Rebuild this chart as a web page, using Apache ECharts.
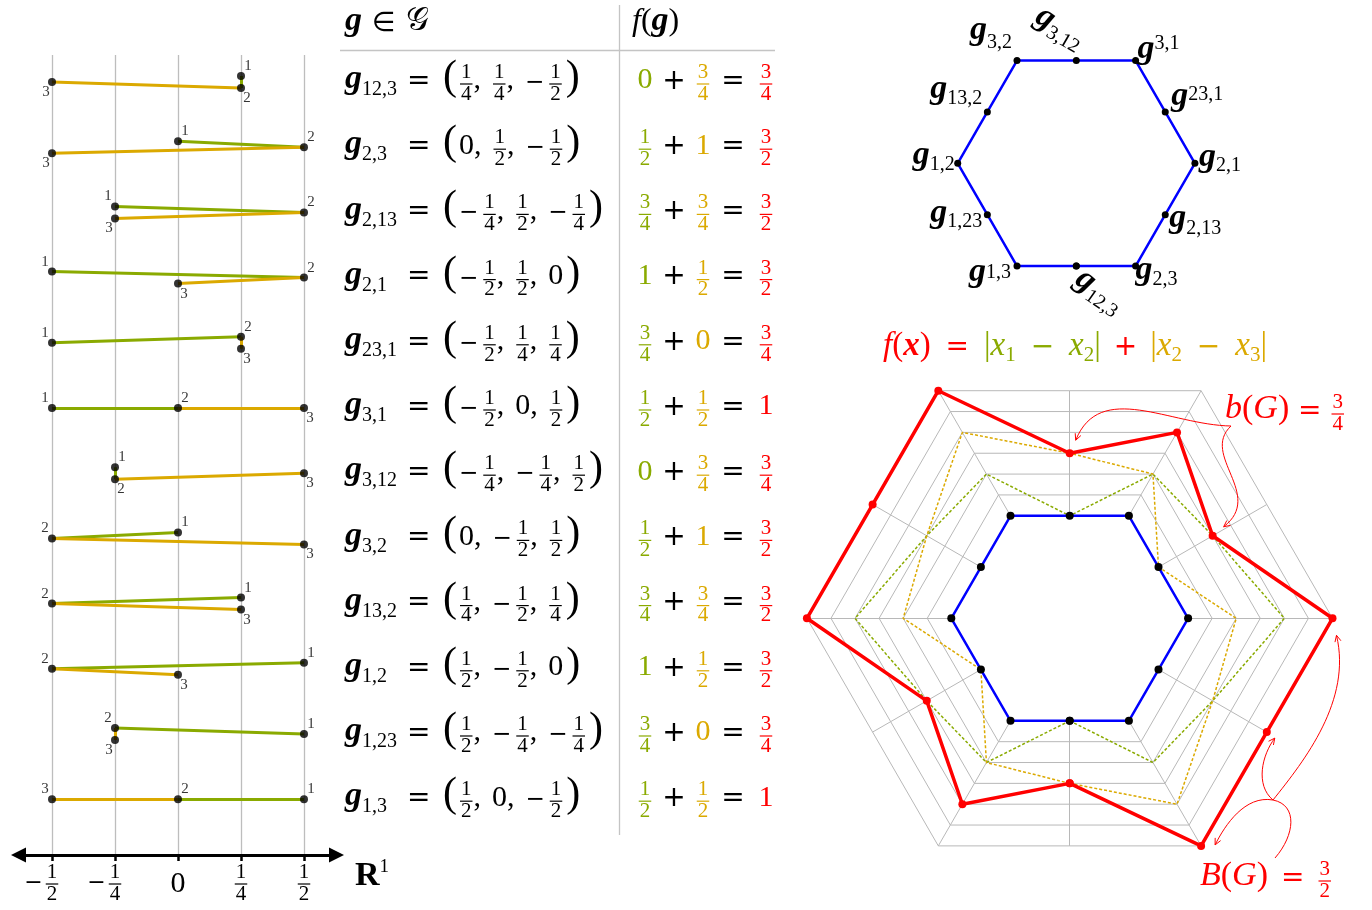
<!DOCTYPE html>
<html>
<head>
<meta charset="utf-8">
<script src="https://cdn.jsdelivr.net/npm/echarts@6/dist/echarts.min.js"></script>
<style>
  html, body { margin: 0; background: #fff; }
  #main { width: 1372px; height: 910px; }
</style>
</head>
<body>
<div id="main"></div>
<script>
// ---- data ----
const groupNames = ['12,3', '2,3', '2,13', '2,1', '23,1', '3,1', '3,12', '3,2', '13,2', '1,2', '1,23', '1,3'];
const groupVectors = [
  [1/4, 1/4, -1/2], [0, 1/2, -1/2], [-1/4, 1/2, -1/4], [-1/2, 1/2, 0],
  [-1/2, 1/4, 1/4], [-1/2, 0, 1/2], [-1/4, -1/4, 1/2], [0, -1/2, 1/2],
  [1/4, -1/2, 1/4], [1/2, -1/2, 0], [1/2, -1/4, -1/4], [1/2, 0, -1/2]
];
const fFirst = [0, 1/2, 3/4, 1, 3/4, 1/2, 0, 1/2, 3/4, 1, 3/4, 1/2];   // |x1 - x2|
const fSecond = [3/4, 1, 3/4, 1/2, 0, 1/2, 3/4, 1, 3/4, 1/2, 0, 1/2];  // |x2 - x3|
const fTotal = [3/4, 3/2, 3/2, 3/2, 3/4, 1, 3/4, 3/2, 3/2, 3/2, 3/4, 1];
// nudge of points 1,2,3 in each row (+1 up / -1 down) so touching points stay apart
const pointLift = [[1,-1,0],[1,0,-1],[1,0,-1],[1,0,-1],[0,1,-1],[0,0,0],[1,-1,0],[1,0,-1],[1,0,-1],[1,0,-1],[0,1,-1],[0,0,0]];
const pointLabelSide = [
  ['TR','BR','BL'],['TR','TR','BL'],['TL','TR','BL'],['TL','TR','BR'],
  ['TL','TR','BR'],['TL','TR','BR'],['TR','BR','BR'],['TR','TL','BR'],
  ['TR','TL','BR'],['TR','TL','BR'],['TR','TL','BL'],['TR','TR','TL']
];
const lineTicks = [-1/2, -1/4, 0, 1/4, 1/2];
const ringLevels = [1/4, 1/2, 3/4, 1, 5/4, 3/2];

// ---- styling ----
const GREEN = '#8aaa00';
const YELLOW = '#dba900';
const RED = '#ff0000';
const BLUE = '#0000ff';
const GRID_GRAY = '#b8b8b8';
const SERIF = "'Liberation Serif','Times New Roman',serif";
const SYMF = "'DejaVu Sans',sans-serif";
const LIFT = 0.092;        // row units
const RING_GAIN = 0.813;   // radar radius grows 1 + gain*f (blue hexagon = 1)
const cornerOffset = { TR: [7, -10], TL: [-7, -10], BR: [6, 10], BL: [-6, 10] };

const ROOT3 = Math.sqrt(3);
function project(v) { return [v[1] - v[0], (2 * v[2] - v[0] - v[1]) / ROOT3]; }
function scaled(v, f) { const p = project(v), k = 1 + RING_GAIN * f; return [p[0] * k, p[1] * k]; }
function closed(a) { return a.concat([a[0]]); }

// left strip: segments and points
const greenSegs = [], yellowSegs = [], dots = [];
groupVectors.forEach(function (v, i) {
  const pts = [0, 1, 2].map(k => [v[k], i - pointLift[i][k] * LIFT]);
  greenSegs.push({ coords: [pts[0], pts[1]] });
  yellowSegs.push({ coords: [pts[1], pts[2]] });
  pts.forEach(function (p, k) {
    const o = cornerOffset[pointLabelSide[i][k]];
    dots.push({ name: String(k + 1), value: p, label: { position: [o[0] + 4, o[1] + 4] } });
  });
});

const hexPts = groupVectors.map(v => scaled(v, 0));

const chart = echarts.init(document.getElementById('main'));

chart.setOption({
  animation: false,
  grid: [
    { left: 52, top: 55, width: 252, height: 800, outerBoundsMode: 'none' },
    { left: 886.54, top: 9.12, width: 379.52, height: 308.36, outerBoundsMode: 'none' },
    { left: 785.54, top: 369.66, width: 568.32, height: 497.28, outerBoundsMode: 'none' },
    { left: 18.5, top: 55, width: 318, height: 800, outerBoundsMode: 'none' }
  ],
  xAxis: [
    {
      gridIndex: 0, type: 'value', min: -0.5, max: 0.5, interval: 0.25,
      axisLine: { show: false, onZero: false },
      axisTick: { show: true, length: 6, lineStyle: { color: '#000', width: 2.5 } },
      axisLabel: { show: false },
      splitLine: { show: true, lineStyle: { color: '#bdbdbd', width: 1.3 } }
    },
    { gridIndex: 1, type: 'value', min: -1.6, max: 1.6, show: false },
    { gridIndex: 2, type: 'value', min: -2.4, max: 2.4, show: false },
    {
      gridIndex: 3, type: 'value', min: 0, max: 1,
      axisLine: {
        show: true, onZero: false, symbol: ['triangle', 'triangle'], symbolSize: [15, 15],
        lineStyle: { color: '#000', width: 3 }
      },
      axisTick: { show: false }, axisLabel: { show: false }, splitLine: { show: false }
    }
  ],
  yAxis: [
    { gridIndex: 0, type: 'value', inverse: true, min: -0.414, max: 11.856, show: false },
    { gridIndex: 1, type: 'value', min: -1.3, max: 1.3, show: false },
    { gridIndex: 2, type: 'value', min: -2.1, max: 2.1, show: false },
    { gridIndex: 3, type: 'value', min: 0, max: 1, show: false }
  ],
  series: [
    {
      type: 'lines', coordinateSystem: 'cartesian2d', xAxisIndex: 0, yAxisIndex: 0, silent: true, z: 2,
      lineStyle: { color: GREEN, width: 3, opacity: 1 }, data: greenSegs
    },
    {
      type: 'lines', coordinateSystem: 'cartesian2d', xAxisIndex: 0, yAxisIndex: 0, silent: true, z: 3,
      lineStyle: { color: YELLOW, width: 3, opacity: 1 }, data: yellowSegs
    },
    {
      type: 'scatter', xAxisIndex: 0, yAxisIndex: 0, symbolSize: 8, z: 5, silent: true,
      itemStyle: { color: '#000' },
      label: {
        show: true, formatter: '{b}', fontFamily: SERIF, fontSize: 15, color: '#000',
        align: 'center', verticalAlign: 'middle'
      },
      data: dots
    },
    {
      type: 'line', xAxisIndex: 1, yAxisIndex: 1, data: closed(hexPts), z: 3, silent: true,
      lineStyle: { color: BLUE, width: 2.5 }, symbol: 'circle', symbolSize: 7, showSymbol: true,
      itemStyle: { color: '#000' }
    },
    {
      type: 'lines', coordinateSystem: 'cartesian2d', xAxisIndex: 2, yAxisIndex: 2, polyline: true, silent: true, z: 1,
      lineStyle: { color: GRID_GRAY, width: 1, opacity: 1 },
      data: ringLevels.map(f => ({ coords: closed(groupVectors.map(v => scaled(v, f))) }))
    },
    {
      type: 'lines', coordinateSystem: 'cartesian2d', xAxisIndex: 2, yAxisIndex: 2, silent: true, z: 1,
      lineStyle: { color: GRID_GRAY, width: 1, opacity: 1 },
      data: groupVectors.map(v => ({ coords: [scaled(v, 0), scaled(v, ringLevels[ringLevels.length - 1])] }))
    },
    {
      type: 'line', xAxisIndex: 2, yAxisIndex: 2, z: 2, silent: true, showSymbol: false,
      lineStyle: { color: GREEN, width: 1.5, type: [3, 2] },
      data: closed(groupVectors.map((v, i) => scaled(v, fFirst[i])))
    },
    {
      type: 'line', xAxisIndex: 2, yAxisIndex: 2, z: 2, silent: true, showSymbol: false,
      lineStyle: { color: YELLOW, width: 1.5, type: [3, 2] },
      data: closed(groupVectors.map((v, i) => scaled(v, fSecond[i])))
    },
    {
      type: 'line', xAxisIndex: 2, yAxisIndex: 2, z: 3, silent: true,
      lineStyle: { color: BLUE, width: 2.5 }, symbol: 'circle', symbolSize: 8, showSymbol: true,
      itemStyle: { color: '#000' }, data: closed(hexPts)
    },
    {
      type: 'line', xAxisIndex: 2, yAxisIndex: 2, z: 4, silent: true,
      lineStyle: { color: RED, width: 3.5 }, symbol: 'circle', symbolSize: 8, showSymbol: true,
      itemStyle: { color: RED }, data: closed(groupVectors.map((v, i) => scaled(v, fTotal[i])))
    }
  ]
});

// ---- little math typesetter for the text parts ----
const measureCtx = document.createElement('canvas').getContext('2d');
const midCache = {};
function textWidth(font, s) { measureCtx.font = font; return measureCtx.measureText(s).width; }
function midOffset(font, size) {
  if (midCache[font] == null) {
    measureCtx.font = font;
    const m = measureCtx.measureText('Hg');
    const a = m.fontBoundingBoxAscent, d = m.fontBoundingBoxDescent;
    midCache[font] = (a != null && d != null) ? (a - d) / 2 : 0.34 * size;
  }
  return midCache[font];
}
function textEl(s, x, base, font, size, color) {
  return {
    type: 'text', x: x, y: base - midOffset(font, size), silent: true, z: 50,
    style: { text: s, font: font, fill: color, align: 'left', verticalAlign: 'middle', textAlign: 'left', textVerticalAlign: 'middle' }
  };
}
function tk(s, size, opt) { return Object.assign({ s: s, size: size }, opt || {}); }
function gap(w) { return { gap: w }; }
function bg(s, size, color) { return tk(s, size, { bold: true, italic: true, color: color }); }
function frac(num, den, size, color) { return { num: num, den: den, size: size, color: color }; }
function fontOf(t) { return (t.italic ? 'italic ' : '') + (t.bold ? 'bold ' : '') + t.size + 'px ' + (t.family || SERIF); }
function tokenWidth(t) {
  if (t.gap != null) return t.gap;
  if (t.num != null) {
    const f = t.size + 'px ' + SERIF;
    return Math.max(textWidth(f, t.num), textWidth(f, t.den)) + 4;
  }
  return textWidth(fontOf(t), t.s);
}
function runWidth(tokens) { return tokens.reduce((a, t) => a + tokenWidth(t), 0); }
// stretch the gaps of a run so it spans the given width
function fitGaps(tokens, target) {
  const gaps = tokens.filter(t => t.gap != null);
  const extra = (target - runWidth(tokens)) / gaps.length;
  gaps.forEach(t => { t.gap = Math.max(1, t.gap + extra); });
  return tokens;
}
function typeset(tokens, x, base, out, defColor) {
  tokens.forEach(function (t) {
    const w = tokenWidth(t);
    const col = t.color || defColor || '#000';
    if (t.num != null) {
      const f = t.size + 'px ' + SERIF;
      const axis = base - 7;
      out.push(textEl(t.num, x + (w - textWidth(f, t.num)) / 2, axis - 4.5, f, t.size, col));
      out.push(textEl(t.den, x + (w - textWidth(f, t.den)) / 2, axis + 3.5 + 0.66 * t.size, f, t.size, col));
      out.push({ type: 'rect', silent: true, z: 50, shape: { x: x + 1, y: axis - 0.6, width: w - 2, height: 1.2 }, style: { fill: col } });
    } else if (t.gap == null) {
      out.push(textEl(t.s, x, base + (t.dy || 0), fontOf(t), t.size, col));
    }
    x += w;
  });
  return x;
}
function valueToken(a, fracSize, intSize, color) {
  const q = Math.round(Math.abs(a) * 4);
  if (q % 4 === 0) return tk(String(q / 4), intSize, { color: color });
  if (q % 2 === 0) return frac(String(q / 2), '2', fracSize, color);
  return frac(String(q), '4', fracSize, color);
}

const G_SIZE = 34, SUB_SIZE = 20, FRAC_SIZE = 21, INT_SIZE = 30, OP_SIZE = 28;
const els = [];

// table rules
els.push({ type: 'line', silent: true, shape: { x1: 619.5, y1: 5, x2: 619.5, y2: 835 }, style: { stroke: '#c4c4c4', lineWidth: 1.3 } });
els.push({ type: 'line', silent: true, shape: { x1: 340, y1: 50.5, x2: 775, y2: 50.5 }, style: { stroke: '#c4c4c4', lineWidth: 1.3 } });

// header
const scriptG = Math.abs(textWidth('28px ' + SERIF, '\u{1D4A2}') - textWidth('28px ' + SERIF, '\uE83A')) > 0.5 ? '\u{1D4A2}' : 'G';
typeset([bg('g', G_SIZE), gap(10), tk('\u2208', 27, { family: SYMF }), gap(10), tk(scriptG, 32, { italic: scriptG === 'G' })], 345, 33, els);
typeset([tk('f', 32, { italic: true }), tk('(', 32), bg('g', G_SIZE), tk(')', 32)], 632, 33, els);

// table rows
const fCenters = [645, 674, 703, 733, 766];
groupVectors.forEach(function (v, i) {
  const base = chart.convertToPixel({ gridIndex: 0 }, [0, i])[1] + 9;
  typeset([bg('g', G_SIZE), tk(groupNames[i], SUB_SIZE, { dy: 6 })], 345, base, els);
  typeset([tk('=', OP_SIZE, { family: SYMF })], 407, base, els);
  const tup = [tk('(', 42, { dy: 1 }), gap(2)];
  v.forEach(function (c, j) {
    if (c < 0) tup.push(tk('\u2212', 23, { family: SYMF }), gap(4));
    tup.push(valueToken(c, FRAC_SIZE, INT_SIZE));
    if (j < v.length - 1) tup.push(tk(',', INT_SIZE), gap(11));
  });
  tup.push(gap(3), tk(')', 42, { dy: 1 }));
  typeset(tup, 443, base, els);
  const fParts = [
    valueToken(fFirst[i], FRAC_SIZE, INT_SIZE, GREEN), tk('+', OP_SIZE, { family: SYMF }),
    valueToken(fSecond[i], FRAC_SIZE, INT_SIZE, YELLOW), tk('=', OP_SIZE, { family: SYMF }),
    valueToken(fTotal[i], FRAC_SIZE, INT_SIZE, RED)
  ];
  fParts.forEach(function (t, k) { typeset([t], fCenters[k] - tokenWidth(t) / 2, base, els); });
});

// number line labels
lineTicks.forEach(function (v) {
  const px = chart.convertToPixel({ gridIndex: 0 }, [v, 0])[0];
  const t = valueToken(v, 21, 30);
  const w = tokenWidth(t);
  typeset([t], px - w / 2, t.num != null ? 891 : 895, els);
  if (v < 0) {
    const m = tk('\u2212', 22, { family: SYMF });
    typeset([m], px - w / 2 - 2 - tokenWidth(m), 891, els);
  }
});
typeset([tk('R', 34, { bold: true }), tk('1', 19, { dy: -14 })], 355, 888, els);

// hexagon labels: [align, dx, dy, subscript shift, rotation deg]
const hexLabelPlace = [
  ['l', -4, 19, 6, -35], ['l', 0, 16, 5, 0], ['l', 4, 15, 6, 0], ['l', 4, 5, 4, 0],
  ['l', 6, -4, -6, 0], ['l', 2, 0, -10, 0], ['l', -44, -37, 6, -30], ['r', -5, -19, 8, 0],
  ['r', -5, -11, 5, 0], ['r', -3, 3, 5, 0], ['r', -5, 10, 4, 0], ['r', -6, 18, -4, 0]
];
hexPts.forEach(function (p, i) {
  const px = chart.convertToPixel({ gridIndex: 1 }, p);
  const pl = hexLabelPlace[i];
  const toks = [bg('g', G_SIZE), tk(groupNames[i], SUB_SIZE, { dy: pl[3] })];
  if (pl[4]) {
    const kids = [];
    typeset(toks, 0, 0, kids);
    els.push({ type: 'group', x: px[0] + pl[1], y: px[1] + pl[2], rotation: pl[4] * Math.PI / 180, children: kids });
  } else {
    const w = runWidth(toks);
    typeset(toks, pl[0] === 'r' ? px[0] + pl[1] - w : px[0] + pl[1], px[1] + pl[2], els);
  }
});

// formula above the radar
typeset(fitGaps([
  tk('f', 33, { italic: true }), tk('(', 33), bg('x', 33), tk(')', 33), gap(8),
  tk('=', OP_SIZE, { family: SYMF }), gap(8),
  tk('|', 33, { color: GREEN }), tk('x', 33, { italic: true, color: GREEN }), tk('1', 21, { dy: 5, color: GREEN }), gap(8),
  tk('\u2212', OP_SIZE, { family: SYMF, color: GREEN }), gap(8),
  tk('x', 33, { italic: true, color: GREEN }), tk('2', 21, { dy: 5, color: GREEN }), tk('|', 33, { color: GREEN }), gap(6),
  tk('+', OP_SIZE, { family: SYMF }), gap(6),
  tk('|', 33, { color: YELLOW }), tk('x', 33, { italic: true, color: YELLOW }), tk('2', 21, { dy: 5, color: YELLOW }), gap(8),
  tk('\u2212', OP_SIZE, { family: SYMF, color: YELLOW }), gap(8),
  tk('x', 33, { italic: true, color: YELLOW }), tk('3', 21, { dy: 5, color: YELLOW }), tk('|', 33, { color: YELLOW })
], 384), 883, 357, els, RED);

// b(G) and B(G) notes with curved arrows
typeset(fitGaps([tk('b', 34, { italic: true }), tk('(', 34), tk('G', 34, { italic: true }), tk(')', 34), gap(6),
  tk('=', OP_SIZE, { family: SYMF }), gap(6), frac('3', '4', 21)], 120), 1225, 421, els, RED);
typeset(fitGaps([tk('B', 34, { italic: true }), tk('(', 34), tk('G', 34, { italic: true }), tk(')', 34), gap(6),
  tk('=', OP_SIZE, { family: SYMF }), gap(6), frac('3', '2', 21)], 132), 1200, 888, els, RED);

function arrowCurve(p0, c1, c2, p3, head) {
  els.push({
    type: 'bezierCurve', silent: true, z: 40,
    shape: { x1: p0[0], y1: p0[1], cpx1: c1[0], cpy1: c1[1], cpx2: c2[0], cpy2: c2[1], x2: p3[0], y2: p3[1] },
    style: { stroke: RED, lineWidth: 1, fill: null }
  });
  if (head) {
    const ang = Math.atan2(p3[1] - c2[1], p3[0] - c2[0]), L = 7, a = 0.45;
    els.push({
      type: 'polyline', silent: true, z: 40,
      shape: { points: [[p3[0] - L * Math.cos(ang - a), p3[1] - L * Math.sin(ang - a)], p3, [p3[0] - L * Math.cos(ang + a), p3[1] - L * Math.sin(ang + a)]] },
      style: { stroke: RED, lineWidth: 1, fill: null }
    });
  }
}
const redPx = groupVectors.map((v, i) => chart.convertToPixel({ gridIndex: 2 }, scaled(v, fTotal[i])));
const off = (p, dx, dy) => [p[0] + dx, p[1] + dy];
const bStart = [1231, 426];
arrowCurve(bStart, [1170, 425], [1100, 380], off(redPx[6], 6, -13), true);
arrowCurve(bStart, [1200, 455], [1265, 495], off(redPx[4], 11, -9), true);
const bigStart = [1275, 858], junction = [1273, 800];
arrowCurve(bigStart, [1295, 835], [1298, 805], junction, false);
arrowCurve(junction, [1245, 795], [1225, 825], off(redPx[1], 14, -1), true);
arrowCurve(junction, [1255, 785], [1262, 755], off(redPx[2], 8, 6), true);
arrowCurve(junction, [1305, 760], [1352, 700], off(redPx[3], 4, 17), true);

chart.setOption({ graphic: { elements: els } });
</script>
</body>
</html>
